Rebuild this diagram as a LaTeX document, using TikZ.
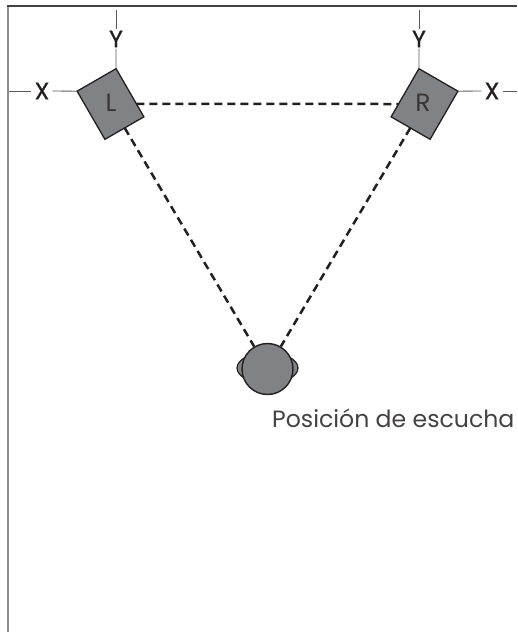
\documentclass[tikz,border=0pt]{standalone}
\usepackage{fontspec}
\setmainfont{Poppins}
\newfontfamily\axisfont[FakeBold=0.7]{Poppins}
\usetikzlibrary{calc,shapes.geometric}
\definecolor{spk}{HTML}{808285}
\definecolor{ink}{HTML}{231F20}
\tikzset{
  speaker/.style={draw=ink,fill=spk,line width=1.3pt,minimum width=45pt,minimum height=55.6pt,inner sep=0pt,outer sep=0pt},
  axislabel/.style={font=\axisfont\fontsize{24}{24}\selectfont,text=ink,inner sep=0pt,minimum width=21pt,minimum height=19pt},
  spklabel/.style={font=\fontsize{25}{25}\selectfont,text=ink!90,inner sep=0pt},
  axisline/.style={draw=ink!75,line width=0.8pt},
  sightline/.style={draw=ink,line width=2.5pt,dash pattern=on 8pt off 5pt},
}
\begin{document}
\begin{tikzpicture}[x=1pt,y=-1pt]
\useasboundingbox (0,0) rectangle (517,632);
\draw[draw=gray!90,line width=2pt] (8,632) -- (8,6);
\draw[draw=ink!85,line width=1.3pt] (7,6) -- (517,6);
% head
\node[draw=ink,fill=spk,line width=1.2pt,ellipse,minimum width=61pt,minimum height=31pt,inner sep=0pt] (ears) at (267.5,368) {};
\node[draw=ink,fill=spk,line width=1.4pt,circle,minimum size=51pt,inner sep=0pt] (head) at (267.5,369) {};
% speakers
\node[speaker,rotate=30] (L) at (110.5,104) {};
\node[speaker,rotate=-30] (R) at (424.5,104) {};
\node[spklabel] (Ltext) at (111,103) {L};
\node[spklabel] (Rtext) at (423,103) {R};
% sight lines
\draw[sightline] (L) -- (R);
\draw[sightline] (L) -- (head);
\draw[sightline] (R) -- (head);
% axes
\node[axislabel] (YL) at (116,39) {Y};
\node[axislabel] (YR) at (419,39) {Y};
\node[axislabel] (XL) at (42,91) {X};
\node[axislabel] (XR) at (492,91) {X};
\coordinate (YLtop) at (116,10);
\coordinate (YRtop) at (419,10);
\coordinate (XLend) at (9,91);
\coordinate (XRend) at (517,91);
\draw[axisline] (YLtop) -- (YL);
\draw[axisline] (YL) -- (L.north east);
\draw[axisline] (YRtop) -- (YR);
\draw[axisline] (YR) -- (R.north west);
\draw[axisline] (XLend) -- (XL);
\draw[axisline] (XL) -- (L.north west);
\draw[axisline] (XRend) -- (XR);
\draw[axisline] (XR) -- (R.north east);
\node[anchor=base west,inner sep=0pt,font=\fontsize{23.6}{24}\selectfont,text=ink!85] (caption) at (272,427) {Posición de escucha};
\end{tikzpicture}
\end{document}
